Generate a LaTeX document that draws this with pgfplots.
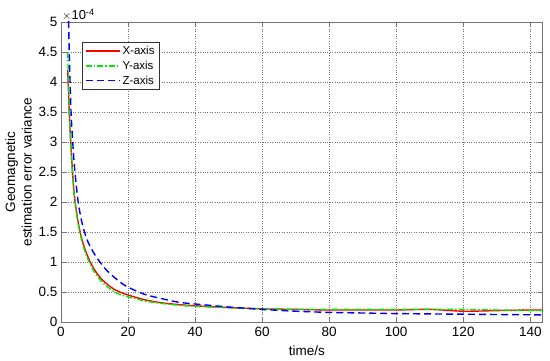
\documentclass[border=0pt]{standalone}
\usepackage{pgfplots}
\pgfplotsset{compat=1.18}
\usepackage{fontspec}
\setmainfont{Liberation Sans}
\definecolor{myred}{RGB}{255,0,0}
\definecolor{mygreen}{RGB}{0,235,0}
\definecolor{myblue}{RGB}{0,0,255}
\pgfplotsset{
  xline/.style={color=myred, line width=1.4pt, solid},
  yline/.style={color=mygreen, line width=1.4pt, dash pattern=on 6pt off 2pt on 1.5pt off 2pt},
  zline/.style={color=myblue, line width=1.4pt, dash pattern=on 7pt off 4pt},
}
\begin{document}
\begin{tikzpicture}[x=1pt,y=1pt]
\begin{axis}[
  at={(0,0)}, anchor=south west,
  scale only axis, width=481.7pt, height=300pt,
  xmin=0, xmax=143.7, ymin=0, ymax=5,
  xtick={0,20,...,140},
  ytick={0,0.5,...,5},
  yticklabels={0,0.5,1,1.5,2,2.5,3,3.5,4,4.5,5},
  /pgf/number format/assume math mode=true,
  tick align=inside,
  tick pos=both,
  major tick length=5pt,
  axis line style={draw=black!55, line width=0.8pt},
  tick style={draw=black!55, line width=0.8pt},
  grid=major,
  major grid style={draw=black!55, dotted, line width=0.7pt},
  tick label style={font=\fontsize{13.5}{15}\selectfont},
  xticklabel style={yshift=-2pt},
  xlabel={time/s},
  xlabel style={font=\fontsize{13.5}{15}\selectfont, at={(axis description cs:0.5,0)}, anchor=north, yshift=-20pt, xshift=5pt},
  ylabel={\shortstack{Geomagnetic\\[1pt]estimation error variance}},
  ylabel style={font=\fontsize{13.5}{16}\selectfont},
  legend style={at={(rel axis cs:0,1)}, anchor=north west, xshift=21pt, yshift=-20pt,
    draw=black!80, font=\fontsize{11.5}{13}\selectfont, row sep=1pt,
    inner xsep=3pt, inner ysep=2pt},
  legend cell align=left,
  legend image code/.code={\begin{scope}[#1]\pgfsetlinewidth{1.4pt}\draw (0pt,0pt) -- (34pt,0pt);\end{scope}},
  after end axis/.code={\node[anchor=south west, font=\fontsize{13}{14}\selectfont, inner sep=1pt] at (rel axis cs:0,1) {$\times$10\textsuperscript{-4}};},
]
\addlegendimage{zline}
\addlegendentry{Z-axis}
\addlegendimage{yline}
\addlegendentry{Y-axis}
\addlegendimage{xline}
\addlegendentry{X-axis}
\pgfplotsset{reverse legend}
\addplot[xline, smooth, forget plot] coordinates {
(2,4.2)(2.5,3.45)(3,2.9)(3.5,2.45)(4,2.1)(5,1.7)(6,1.43)(7,1.24)(8,1.09)(9,0.97)(10,0.87)(12,0.72)(14,0.62)(16,0.54)(18,0.49)(20,0.45)(25,0.37)(30,0.32)(35,0.29)(40,0.27)(50,0.24)(60,0.22)(70,0.21)(80,0.2)(90,0.2)(100,0.2)(110,0.21)(120,0.18)(130,0.19)(140,0.2)(143.7,0.2)};
\addplot[yline, smooth, forget plot] coordinates {
(2,4.5)(2.5,3.5)(3,2.88)(3.5,2.42)(4,2.08)(5,1.67)(6,1.4)(7,1.2)(8,1.05)(9,0.93)(10,0.83)(12,0.68)(14,0.58)(16,0.5)(18,0.45)(20,0.42)(25,0.35)(30,0.31)(35,0.28)(40,0.26)(50,0.24)(60,0.22)(70,0.21)(80,0.21)(90,0.21)(100,0.21)(110,0.21)(120,0.21)(130,0.2)(140,0.19)(143.7,0.19)};
\addplot[zline, smooth, forget plot] coordinates {
(2.2,5.2)(2.5,4.4)(3,3.5)(3.5,3.0)(4,2.6)(5,2.05)(6,1.72)(7,1.5)(8,1.34)(9,1.23)(10,1.13)(12,0.97)(14,0.84)(16,0.74)(18,0.65)(20,0.58)(25,0.46)(30,0.39)(35,0.33)(40,0.3)(50,0.25)(60,0.21)(70,0.18)(80,0.16)(90,0.15)(100,0.14)(120,0.13)(140,0.12)(143.7,0.12)};
\end{axis}
\pgfresetboundingbox
\path (-61,-39) rectangle (489,322);
\end{tikzpicture}
\end{document}
